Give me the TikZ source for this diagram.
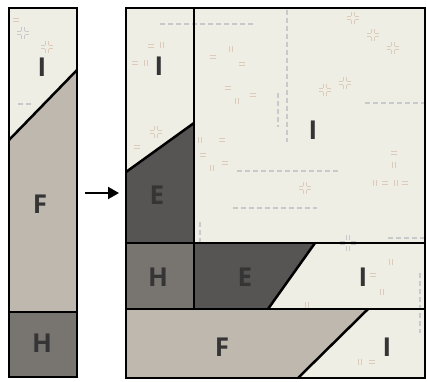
\documentclass[tikz,border=0pt]{standalone}
\usepackage{fontspec}
\setsansfont{Open Sans}
\usetikzlibrary{arrows.meta}
\definecolor{cream}{HTML}{EFEEE4}
\definecolor{taupe}{HTML}{BEB8AF}
\definecolor{slate}{HTML}{787470}
\definecolor{charcoal}{HTML}{565554}
\definecolor{ink}{HTML}{353535}
\definecolor{thread}{HTML}{C8C9CB}
\definecolor{flour}{HTML}{DCCBBA}
\tikzstyle{patch} = [draw=black, line width=2.5pt]
\tikzstyle{tag} = [text=ink, inner sep=0pt,
        font=\sffamily\bfseries\fontsize{26}{26}\selectfont]
\tikzstyle{stitch} = [draw=thread, line width=1.1pt, dash pattern=on 5pt off 3pt]
\tikzset{
    sparkle/.pic={
        \draw[line width=0.8pt] (-1.2,-2) -- (-1.2,-6) (1.2,-2) -- (1.2,-6)
            (-1.2,2) -- (-1.2,6) (1.2,2) -- (1.2,6)
            (-2,-1.2) -- (-6,-1.2) (-2,1.2) -- (-6,1.2)
            (2,-1.2) -- (6,-1.2) (2,1.2) -- (6,1.2);
    },
    eqmark/.pic={\draw[line width=0.8pt] (-3,-1.2) -- (3,-1.2) (-3,1.2) -- (3,1.2);},
    barmark/.pic={\draw[line width=0.8pt] (-1.2,-3) -- (-1.2,3) (1.2,-3) -- (1.2,3);}
}

\begin{document}
\begin{tikzpicture}[x=1pt, y=-1pt]
    \useasboundingbox (0,0) rectangle (427,381);

    % left strip
    \fill[cream] (9,8) -- (77,8) -- (77,70) -- (9,140) -- cycle;
    \fill[taupe] (9,140) -- (77,70) -- (77,312) -- (9,312) -- cycle;
    \fill[slate] (9,312) rectangle (77,377);

    % square
    \fill[cream] (126,8) rectangle (425,378);
    \fill[charcoal] (126,172) -- (194,123) -- (194,243) -- (126,243) -- cycle;
    \fill[slate] (126,243) rectangle (194,309);
    \fill[charcoal] (194,243) -- (315,243) -- (268,309) -- (194,309) -- cycle;
    \fill[taupe] (126,309) -- (368,309) -- (298,378) -- (126,378) -- cycle;

    % texture
    \draw[stitch] (18,104) -- (34,104);
    \draw[stitch] (160,24) -- (253,24);
    \draw[stitch] (287,10) -- (287,142);
    \draw[stitch] (278,93) -- (278,127);
    \draw[stitch] (365,103) -- (425,103);
    \draw[stitch] (237,171) -- (340,171);
    \draw[stitch] (233,208) -- (317,208);
    \draw[stitch] (388,238) -- (425,238);
    \draw[stitch] (200,222) -- (200,243);
    \draw[stitch] (420,273) -- (420,333);
    \foreach \p in {(47,47),(156,132),(353,18),(373,35),(393,48),(325,90),(345,83),(305,188)}
        \pic[flour] at \p {sparkle};
    \pic[thread] at (23,33) {sparkle};
    \pic[thread, scale=1.4] at (348,243) {sparkle};
    \foreach \p in {(16,20),(151,46),(135,63),(137,147),(213,57),(242,64),(228,88),
                    (253,95),(222,140),(203,155),(225,163),(394,153),(385,183),
                    (405,183),(373,275),(372,362)}
        \pic[flour] at \p {eqmark};
    \foreach \p in {(162,45),(146,63),(231,49),(237,101),(200,140),(212,168),
                    (394,165),(375,183),(396,183),(391,262),(382,292),(307,305),(360,362)}
        \pic[flour] at \p {barmark};

    % seams
    \draw[patch] (9,8) rectangle (77,377);
    \draw[patch] (9,140) -- (77,70);
    \draw[patch] (9,312) -- (77,312);
    \draw[patch] (126,8) rectangle (425,378);
    \draw[patch] (194,8) -- (194,309);
    \draw[patch] (126,172) -- (194,123);
    \draw[patch] (126,243) -- (425,243);
    \draw[patch] (126,309) -- (425,309);
    \draw[patch] (315,243) -- (268,309);
    \draw[patch] (368,309) -- (298,378);

    % labels
    \node[tag] (stripI) at (42,67) {I};
    \node[tag] (stripF) at (40,204) {F};
    \node[tag] (stripH) at (42,343) {H};
    \node[tag] (cornerI) at (159,66) {I};
    \node[tag] (bigI) at (313,130) {I};
    \node[tag] (sideE) at (157,195) {E};
    \node[tag] (midH) at (158,277) {H};
    \node[tag] (midE) at (245,277) {E};
    \node[tag] (midI) at (363,277) {I};
    \node[tag] (lowF) at (222,347) {F};
    \node[tag] (lowI) at (387,347) {I};

    % arrow
    \coordinate (arrowtail) at (85,193);
    \coordinate (arrowhead) at (119,193);
    \draw[line width=2pt, -{Triangle[length=11pt, width=12pt]}] (arrowtail) -- (arrowhead);
\end{tikzpicture}
\end{document}
